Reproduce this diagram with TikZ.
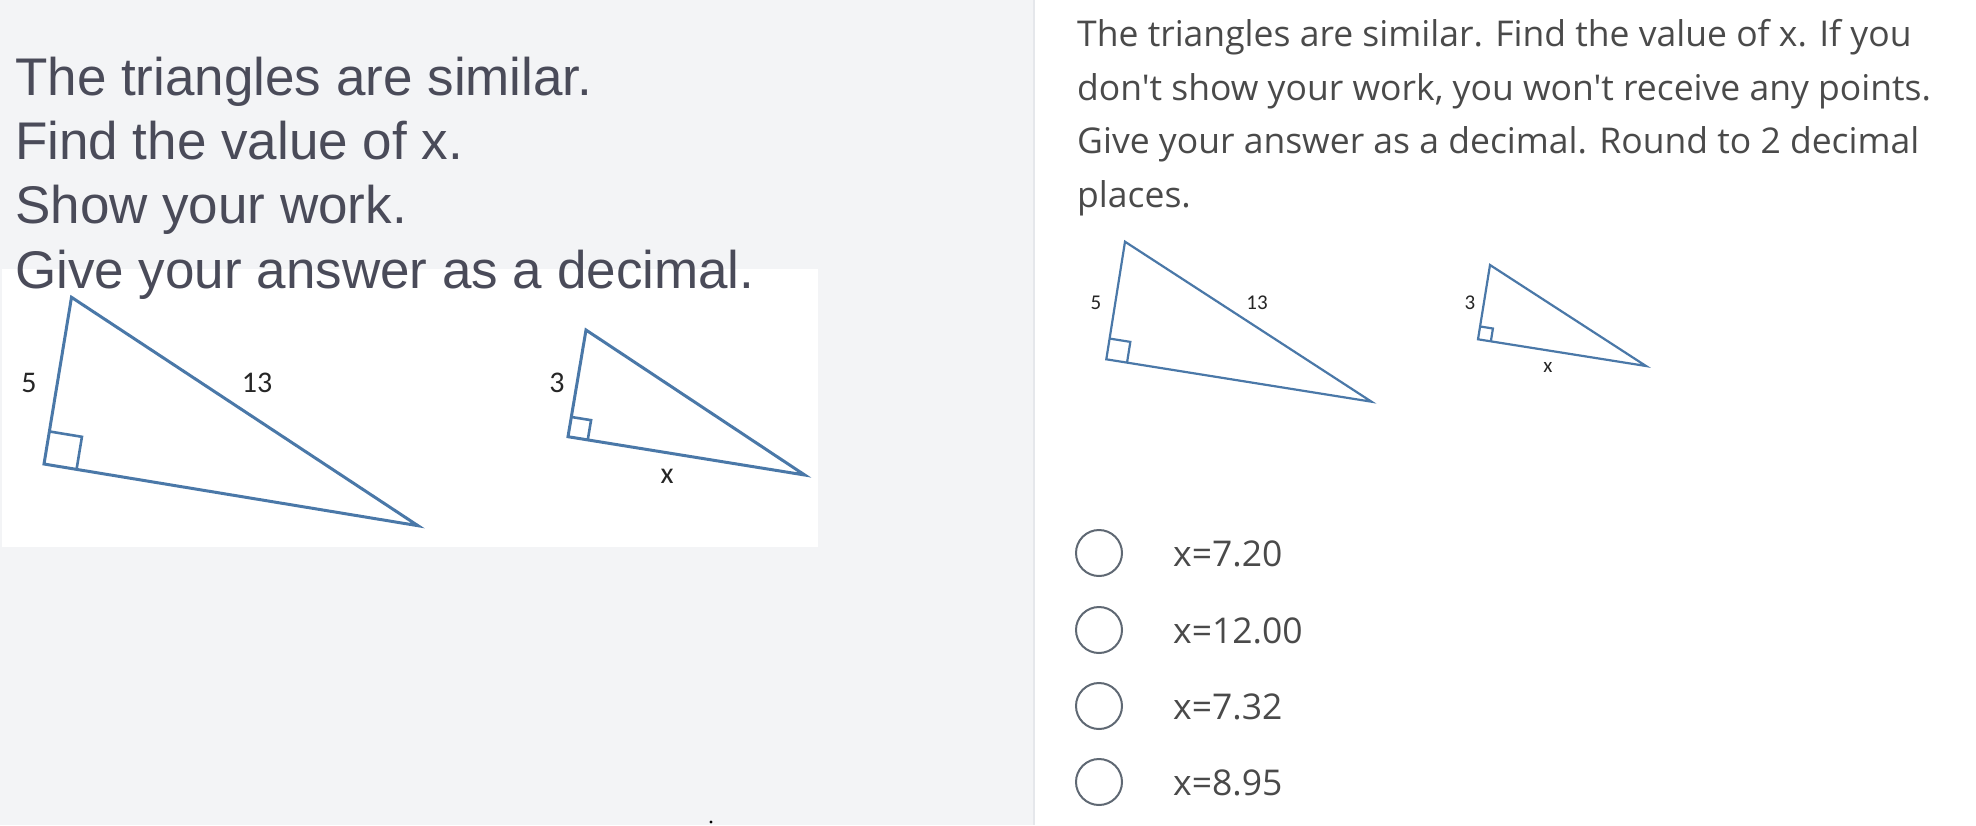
\documentclass[tikz,border=0pt]{standalone}
\usepackage{fontspec}
\setmainfont{Liberation Sans}
\newfontfamily\opensans{Open Sans}
\newfontfamily\carlito{Carlito}
\usetikzlibrary{calc}
\definecolor{leftbg}{HTML}{F3F4F6}
\definecolor{divider}{HTML}{E5E7EB}
\definecolor{lefttext}{HTML}{4A4B59}
\definecolor{righttext}{HTML}{4A4A4A}
\definecolor{triblue}{HTML}{4A78A8}
\definecolor{radio}{HTML}{5F6873}
\tikzset{
  bigtext/.style={anchor=base west, inner sep=0pt, text=lefttext, font=\fontsize{53}{53}\selectfont},
  qtext/.style={anchor=base west, inner sep=0pt, text=righttext, font=\opensans\fontsize{35.5}{35.5}\selectfont},
  opttext/.style={anchor=base west, inner sep=0pt, text=righttext, font=\opensans\fontsize{35.5}{35.5}\selectfont},
  radiobtn/.style={circle, draw=radio, line width=2pt, minimum size=46pt, inner sep=0pt},
  trithick/.style={draw=triblue, line width=3pt, line join=miter},
  trithin/.style={draw=triblue, line width=2.2pt, line join=miter},
  labbig/.style={inner sep=0pt, font=\carlito\fontsize{30}{30}\selectfont, text=black!85},
  labsmall/.style={inner sep=0pt, font=\carlito\fontsize{21}{21}\selectfont, text=black!85},
}
\begin{document}
\begin{tikzpicture}[x=1pt,y=-1pt]
\useasboundingbox (0,0) rectangle (1976,825);
% backgrounds
\fill[leftbg] (0,0) rectangle (1033,825);
\fill[white] (1035,0) rectangle (1976,825);
\fill[divider] (1033,0) rectangle (1035,825);
% white picture box on the left
\fill[white] (2,269) rectangle (818,547);

% left text
\node[bigtext] (l1) at (15,95) {The triangles are similar.};
\node[bigtext] (l2) at (15,159) {Find the value of x.};
\node[bigtext] (l3) at (15,223) {Show your work.};
\node[bigtext] (l4) at (15,288) {Give your answer as a decimal.};

% left big triangle
\coordinate (LA) at (71.5,297.3);
\coordinate (LC) at (44,464);
\coordinate (LB) at (418,525.7);
\draw[trithick] (LA) -- (LC) -- (LB) -- cycle;
\coordinate (LsA) at ($(LC)!33pt!(LA)$);
\coordinate (LsB) at ($(LC)!33pt!(LB)$);
\draw[trithick, line width=2.6pt] (LsA) -- ($(LsA)+(LsB)-(LC)$) -- (LsB);
\node[labbig] (l5) at (29,383) {5};
\node[labbig] (l13) at (257,383) {13};

% left small triangle
\coordinate (SA) at (586,330);
\coordinate (SC) at (568,436.7);
\coordinate (SB) at (804.7,475);
\draw[trithick] (SA) -- (SC) -- (SB) -- cycle;
\coordinate (SsA) at ($(SC)!20pt!(SA)$);
\coordinate (SsB) at ($(SC)!20pt!(SB)$);
\draw[trithick, line width=2.6pt] (SsA) -- ($(SsA)+(SsB)-(SC)$) -- (SsB);
\node[labbig] (l3s) at (557,383) {3};
\node[labbig] (lx) at (667,476) {x};

% tiny dot
\fill[black] (711,822) circle (1.6);

% right question text
\node[qtext] (q1) at (1077,46.7) {The triangles are similar. Find the value of x. If you};
\node[qtext] (q2) at (1077,100) {don't show your work, you won't receive any points.};
\node[qtext] (q3) at (1077,153.5) {Give your answer as a decimal. Round to 2 decimal};
\node[qtext] (q4) at (1077,207) {places.};

% right big triangle
\coordinate (RA) at (1125,241.7);
\coordinate (RC) at (1106.3,359.3);
\coordinate (RB) at (1371.5,401.7);
\draw[trithin] (RA) -- (RC) -- (RB) -- cycle;
\coordinate (RsA) at ($(RC)!21pt!(RA)$);
\coordinate (RsB) at ($(RC)!21pt!(RB)$);
\draw[trithin] (RsA) -- ($(RsA)+(RsB)-(RC)$) -- (RsB);
\node[labsmall] (r5) at (1096,303) {5};
\node[labsmall] (r13) at (1257,303) {13};

% right small triangle
\coordinate (TA) at (1490,265);
\coordinate (TC) at (1478,339.3);
\coordinate (TB) at (1646,366);
\draw[trithin] (TA) -- (TC) -- (TB) -- cycle;
\coordinate (TsA) at ($(TC)!13pt!(TA)$);
\coordinate (TsB) at ($(TC)!13pt!(TB)$);
\draw[trithin] (TsA) -- ($(TsA)+(TsB)-(TC)$) -- (TsB);
\node[labsmall] (r3) at (1470,303) {3};
\node[labsmall] (rx) at (1548,367) {x};

% options
\node[radiobtn] (c1) at (1099,553) {};
\node[radiobtn] (c2) at (1099,630) {};
\node[radiobtn] (c3) at (1099,706) {};
\node[radiobtn] (c4) at (1099,782) {};
\node[opttext] (o1) at (1173,566.7) {x=7.20};
\node[opttext] (o2) at (1173,643) {x=12.00};
\node[opttext] (o3) at (1173,719) {x=7.32};
\node[opttext] (o4) at (1173,795) {x=8.95};
\end{tikzpicture}
\end{document}
